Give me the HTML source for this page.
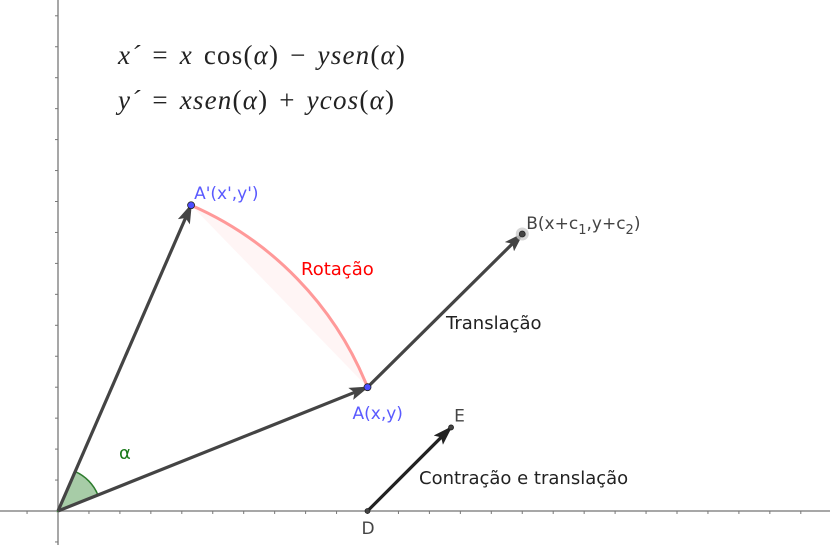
<!DOCTYPE html>
<html><head><meta charset="utf-8"><style>
html,body{margin:0;padding:0;background:#fff;}
svg{display:block;}
</style></head><body>
<svg id="chart" width="830" height="545" viewBox="0 0 830 545" xmlns="http://www.w3.org/2000/svg" font-family="DejaVu Sans, Liberation Sans, sans-serif">
<defs>
<marker id="ah" markerWidth="20" markerHeight="13" refX="18" refY="6.5" orient="auto" markerUnits="userSpaceOnUse" viewBox="0 0 20 13"><path d="M0,0 L20,6.5 L0,13 L4,6.5 Z" fill="#444"/></marker>
<marker id="ah2" markerWidth="20" markerHeight="13" refX="18" refY="6.5" orient="auto" markerUnits="userSpaceOnUse" viewBox="0 0 20 13"><path d="M0,0 L20,6.5 L0,13 L4,6.5 Z" fill="#222"/></marker>
</defs>
<g id="axes"></g>
<g id="marks"></g>
<text x="118" y="64" font-family="Liberation Serif, serif" font-style="italic" font-size="27" letter-spacing="1.2" word-spacing="3" fill="#222">x´ <tspan font-style="normal">=</tspan> x <tspan font-style="normal">cos(</tspan>α<tspan font-style="normal">) −</tspan> ysen<tspan font-style="normal">(</tspan>α<tspan font-style="normal">)</tspan></text>
<text x="118" y="109" font-family="Liberation Serif, serif" font-style="italic" font-size="27" letter-spacing="1.2" word-spacing="3" fill="#222">y´ <tspan font-style="normal">=</tspan> xsen<tspan font-style="normal">(</tspan>α<tspan font-style="normal">) +</tspan> ycos<tspan font-style="normal">(</tspan>α<tspan font-style="normal">)</tspan></text>
</svg>
<script>
// Data (grid units)
const originPt = [0, 0];
const pointA = [10, 4];
const pointAprime = [4.3, 9.88];
const pointB = [15.0, 8.95];
const pointD = [10, 0];
const pointE = [12.7, 2.7];
const xTickUnits = [-1,1,2,3,4,5,6,7,8,9,10,11,12,13,14,15,16,17,18,19,20,21,22,23,24,25];
const yTickUnits = [-1,1,2,3,4,5,6,7,8,9,10,11,12,13,14,15,16];

const X0 = 58, Y0 = 511, U = 30.95;
function sx(v){ return X0 + v*U; }
function sy(v){ return Y0 - v*U; }
const NS = 'http://www.w3.org/2000/svg';
function mk(tag, attrs, parent){
  const e = document.createElementNS(NS, tag);
  for (const k in attrs) e.setAttribute(k, attrs[k]);
  parent.appendChild(e); return e;
}
const axes = document.getElementById('axes');
const marks = document.getElementById('marks');

let xa = mk('line',{x1:0,y1:Y0,x2:830,y2:Y0,stroke:'#8a8a8a','stroke-width':1.5},axes);


let ya = mk('line',{x1:X0,y1:0,x2:X0,y2:545,stroke:'#8a8a8a','stroke-width':1.5},axes);


xTickUnits.forEach(t=>{
  const l = mk('line',{x1:sx(t),y1:Y0,x2:sx(t),y2:Y0+3,stroke:'#777','stroke-width':1},axes);
  
  
});
yTickUnits.forEach(t=>{
  const l = mk('line',{x1:X0-3,y1:sy(t),x2:X0,y2:sy(t),stroke:'#777','stroke-width':1},axes);
  
  
});

const rA = Math.hypot(pointA[0],pointA[1]);
const ax = sx(pointAprime[0]), ay = sy(pointAprime[1]);
const bx = sx(pointA[0]), by = sy(pointA[1]);
const rpx = rA*U;
let seg = mk('path',{d:`M${ax},${ay} A${rpx},${rpx} 0 0 1 ${bx},${by} Z`,fill:'#ff0000','fill-opacity':0.04,stroke:'none'},marks);


let arc = mk('path',{d:`M${ax},${ay} A${rpx},${rpx} 0 0 1 ${bx},${by}`,fill:'none',stroke:'#ff9999','stroke-width':3},marks);



const angA = Math.atan2(pointA[1],pointA[0]), angP = Math.atan2(pointAprime[1],pointAprime[0]);
const ar = 43;
const p1x = sx(0)+ar*Math.cos(angA), p1y = sy(0)-ar*Math.sin(angA);
const p2x = sx(0)+ar*Math.cos(angP), p2y = sy(0)-ar*Math.sin(angP);
let ang = mk('path',{d:`M${sx(0)},${sy(0)} L${p1x},${p1y} A${ar},${ar} 0 0 0 ${p2x},${p2y} Z`,fill:'#4f9a4f','fill-opacity':0.5,stroke:'#2e7d2e','stroke-width':1.5},marks);



function vec(p,q,name,col,mkr){
  const v = mk('line',{x1:sx(p[0]),y1:sy(p[1]),x2:sx(q[0]),y2:sy(q[1]),stroke:col,'stroke-width':3.2,'marker-end':`url(#${mkr})`},marks);
  
  
}
vec(originPt,pointAprime,'vector-origin-to-aprime','#444','ah');
vec(originPt,pointA,'vector-origin-to-a','#444','ah');
vec(pointA,pointB,'vector-a-to-b','#444','ah');
vec(pointD,pointE,'vector-d-to-e','#222','ah2');

function pt(p,name,fill,r,halo){
  if(halo){
    const h = mk('circle',{cx:sx(p[0]),cy:sy(p[1]),r:6.5,fill:'#ccc','fill-opacity':0.8},marks);
    
    
  }
  const c = mk('circle',{cx:sx(p[0]),cy:sy(p[1]),r:r,fill:fill,stroke:'#222','stroke-width':0.8},marks);
  
  
}
pt(pointA,'point-a','#4d4dff',3.5);
pt(pointAprime,'point-aprime','#4d4dff',3.5);
pt(pointB,'point-b','#444',3,true);
pt(pointD,'point-d','#444',2.5);
pt(pointE,'point-e','#444',2.5);

function lbl(x,y,txt,name,col,size){
  const t = mk('text',{x:x,y:y,fill:col,'font-size':size||18},marks);
  t.textContent = txt;
  
  
  return t;
}
lbl(sx(pointAprime[0])+3,sy(pointAprime[1])-6,"A'(x',y')",'label-aprime','#5a5aff',17);
lbl(sx(pointA[0])-15,sy(pointA[1])+32,'A(x,y)','label-a','#5a5aff',17);
const bl = lbl(sx(pointB[0])+4,sy(pointB[1])-5,'','label-b','#444',17);
bl.innerHTML = 'B(x+c<tspan font-size="13" dy="5">1</tspan><tspan dy="-5">,y+c</tspan><tspan font-size="13" dy="5">2</tspan><tspan dy="-5">)</tspan>';
lbl(sx(pointD[0])-6,sy(pointD[1])+23,'D','label-d','#444',17);
lbl(sx(pointE[0])+3,sy(pointE[1])-6,'E','label-e','#444',17);
lbl(301,275,'Rotação','label-rotacao','#ff0000');
lbl(446,329,'Translação','label-translacao','#222');
lbl(419,484,'Contração e translação','label-contracao','#222');
lbl(119,459,'α','label-alpha','#1a7a1a');
</script>
</body></html>
